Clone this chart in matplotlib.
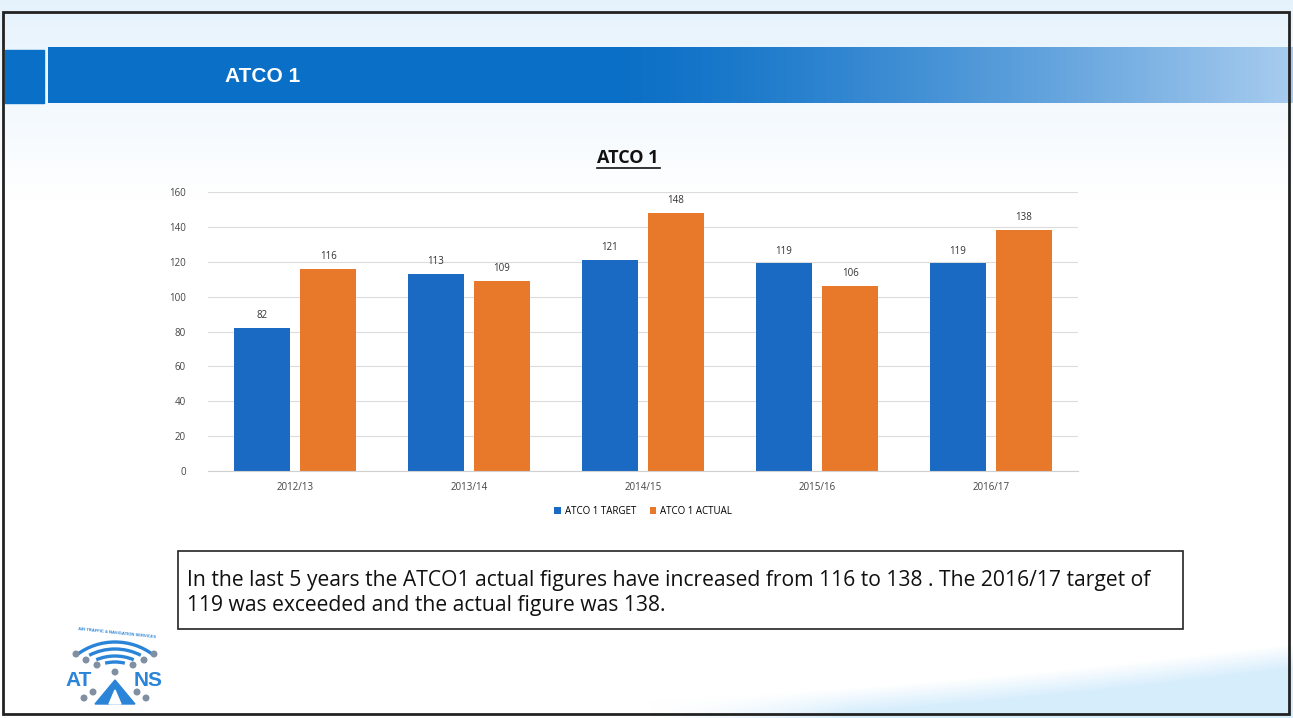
import numpy as np
import matplotlib.pyplot as plt
from matplotlib.patches import Rectangle, Arc, Circle, Polygon

years = ["2012/13", "2013/14", "2014/15", "2015/16", "2016/17"]
target = [82, 113, 121, 119, 119]
actual = [116, 109, 148, 106, 138]
series_names = ["ATCO 1 TARGET", "ATCO 1 ACTUAL"]
y_ticks = [0, 20, 40, 60, 80, 100, 120, 140, 160]

slide_title = "ATCO 1"
summary = ("In the last 5 years the ATCO1 actual figures have increased from 116 to 138 . The 2016/17 target of\n"
           "119 was exceeded and the actual figure was 138.")

BLUE = "#1a69c2"
ORANGE = "#e8792b"
LOGO = "#2a84d8"
W, H = 1293, 718

fig = plt.figure(figsize=(W / 100, H / 100), dpi=100)

# slide background in pixel coordinates
bg = fig.add_axes([0, 0, 1, 1])
bg.set_xlim(0, W)
bg.set_ylim(H, 0)
bg.axis("off")

yy, xx = np.mgrid[0:H, 0:W]
shade = np.ones((H, W, 3))
top = np.clip(1 - yy / 200.0, 0, 1)
shade[..., 0] -= 0.10 * top
shade[..., 1] -= 0.05 * top
shade[..., 2] -= 0.01 * top
# faint swoosh along the bottom right
curve = 700 - 0.00006 * (xx - 650) ** 2 - 0.05 * (xx - 650)
sw = np.clip((yy - curve) / 25.0, 0, 1) * np.clip((xx - 650) / 200.0, 0, 1)
shade[..., 0] -= 0.16 * sw
shade[..., 1] -= 0.07 * sw
shade[..., 2] -= 0.01 * sw
bg.imshow(np.clip(shade, 0, 1), extent=[0, W, H, 0], aspect="auto", zorder=0)

# header band, darker on the left fading to the right
t = np.linspace(0, 1, 400)
fade = np.clip((t - 0.45) / 0.55, 0, 1) ** 1.3
c0 = np.array([0x0a, 0x6f, 0xc6]) / 255
c1 = np.array([0xa8, 0xcc, 0xef]) / 255
band = (c0[None, :] * (1 - fade[:, None]) + c1[None, :] * fade[:, None])[None]
bg.imshow(band, extent=[48, W, 103, 47], aspect="auto", zorder=1)
bg.add_patch(Rectangle((5, 50), 39, 53, color="#0a6fc6", zorder=1))
bg.text(225, 77, slide_title, color="white", fontsize=15, fontweight="bold",
        family="Liberation Sans", va="center", zorder=2)

# slide frame
bg.add_patch(Rectangle((3, 12), 1286, 702, fill=False, ec="#222222", lw=2, zorder=3))

# summary text box
bg.add_patch(Rectangle((178, 551), 1005, 78, fc="white", ec="#222222", lw=1.2, zorder=2))
bg.text(187, 593, summary, fontsize=15.2, family="Open Sans", va="center",
        linespacing=1.28, color="#111111", zorder=3)

# logo: signal arcs, dots, lettering and mountain mark
for ry, half in [(58, 40), (51, 30), (44, 25), (38, 15)]:
    bg.add_patch(Arc((115, 700), 2 * ry * 1.05, 2 * ry, theta1=270 - half, theta2=270 + half,
                     color=LOGO, lw=2.4, zorder=2))
for dx, dy in [(-39, 654), (39, 654), (-29, 660), (29, 660), (-18, 665), (18, 665),
               (0, 672), (-22, 692), (22, 692), (-31, 698), (31, 698)]:
    bg.add_patch(Circle((115 + dx, dy), 2.8, color="#8090a2", zorder=2))
bg.text(79, 681, "AT", color=LOGO, fontsize=15, fontweight="heavy",
        family="Liberation Sans", ha="center", va="center", zorder=3)
bg.text(148, 681, "NS", color=LOGO, fontsize=15, fontweight="heavy",
        family="Liberation Sans", ha="center", va="center", zorder=3)
bg.add_patch(Polygon([(115, 680), (95, 704), (135, 704)], color=LOGO, zorder=3))
bg.add_patch(Polygon([(115, 690), (109, 704), (121, 704)], color="white", zorder=3))
bg.text(117, 633, "AIR TRAFFIC & NAVIGATION SERVICES", color=LOGO, fontsize=3,
        fontweight="bold", family="Liberation Sans", ha="center", va="center",
        rotation=-6, zorder=3)

# bar chart
ax = fig.add_axes([208 / W, 1 - 471 / H, 870 / W, (471 - 192) / H])
ax.patch.set_alpha(0)
x = np.arange(len(years))
bw = 0.32
gap = 0.06
b1 = ax.bar(x - (bw + gap) / 2, target, bw, color=BLUE, label=series_names[0], zorder=2)
b2 = ax.bar(x + (bw + gap) / 2, actual, bw, color=ORANGE, label=series_names[1], zorder=2)
for bars in (b1, b2):
    ax.bar_label(bars, padding=5, fontsize=7, family="Open Sans", color="#333333")

ax.set_xlim(-0.5, len(years) - 0.5)
ax.set_ylim(0, 160)
ax.set_yticks(y_ticks)
ax.set_xticks(x, years)
ax.tick_params(length=0, labelsize=7, colors="#444444")
ax.xaxis.set_tick_params(pad=8)
ax.yaxis.set_tick_params(pad=16)
for lab in ax.get_xticklabels() + ax.get_yticklabels():
    lab.set_family("Open Sans")
ax.grid(axis="y", color="#dcdcdc", lw=0.8, zorder=0)
for s in ["top", "right", "left"]:
    ax.spines[s].set_visible(False)
ax.spines["bottom"].set_color("#d0d0d0")

# underlined chart title
bg.text(628, 158, slide_title, fontsize=13, fontweight="bold", family="Open Sans",
        ha="center", va="center", color="#111111", zorder=3)
bg.plot([597, 660], [168, 168], color="#111111", lw=1.2, zorder=3)

ax.legend(loc="upper center", bbox_to_anchor=(0.5, -0.095), ncol=2, frameon=False,
          prop={"family": "Open Sans", "size": 7}, handlelength=0.7,
          handleheight=0.7, columnspacing=1.4, handletextpad=0.4)

fig.savefig("out.png", dpi=100)
